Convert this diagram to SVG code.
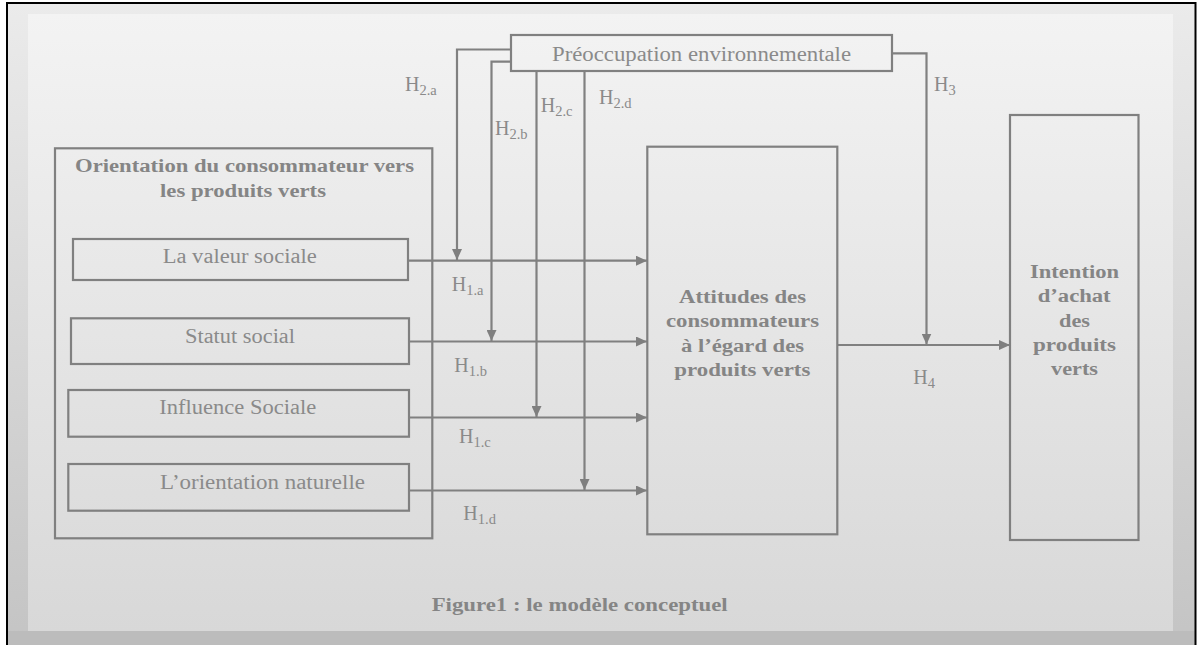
<svg xmlns="http://www.w3.org/2000/svg" width="1200" height="645" viewBox="0 0 1200 645">
<defs>
<linearGradient id="outerBg" x1="0" y1="0" x2="0" y2="1">
<stop offset="0" stop-color="#ebebeb"/>
<stop offset="1" stop-color="#c4c4c4"/>
</linearGradient>
<linearGradient id="panelBg" x1="0" y1="0" x2="0" y2="1">
<stop offset="0" stop-color="#f3f3f3"/>
<stop offset="1" stop-color="#d8d8d8"/>
</linearGradient>
<marker id="arr" markerUnits="userSpaceOnUse" markerWidth="11" markerHeight="10" refX="11" refY="5" orient="auto">
<path d="M0,0 L11,5 L0,10 z" fill="#7f7f7f"/>
</marker>
<style>
.box{fill:none;stroke:#808080;stroke-width:2.2}
.conn{fill:none;stroke:#808080;stroke-width:2.2}
.t{font-family:"Liberation Serif","Times New Roman",serif;fill:#8a8a8a;font-size:20px}
.b{font-family:"Liberation Serif","Times New Roman",serif;fill:#858585;font-size:18.5px;font-weight:bold}
.h{font-family:"Liberation Serif","Times New Roman",serif;fill:#8a8a8a;font-size:20px}
.s{font-size:14.5px}
</style>
</defs>
<rect x="0" y="0" width="1200" height="645" fill="#ffffff"/>
<rect x="7" y="3" width="1189" height="642" fill="url(#outerBg)"/>
<rect x="7" y="631" width="1189" height="14" fill="#bcbcbc"/>
<rect x="28" y="14" width="1145" height="617" fill="url(#panelBg)"/>
<path d="M7,645 V3 H1195.5 V645" fill="none" stroke="#000" stroke-width="2"/>

<g id="connectors">
<path class="conn" d="M408,260.7 H647" marker-end="url(#arr)"/>
<path class="conn" d="M409,341.5 H647" marker-end="url(#arr)"/>
<path class="conn" d="M409,417.5 H647" marker-end="url(#arr)"/>
<path class="conn" d="M409,490.5 H647" marker-end="url(#arr)"/>
<path class="conn" d="M511,49.5 H457 V260" marker-end="url(#arr)"/>
<path class="conn" d="M511,61.7 H491.5 V341" marker-end="url(#arr)"/>
<path class="conn" d="M536.5,71 V417" marker-end="url(#arr)"/>
<path class="conn" d="M584.5,71 V490" marker-end="url(#arr)"/>
<path class="conn" d="M892,53.3 H926.5 V344.5" marker-end="url(#arr)"/>
<path class="conn" d="M838,345 H1010" marker-end="url(#arr)"/>
<text class="h" x="405" y="90.7">H<tspan class="s" dy="4">2.a</tspan></text>
<text class="h" x="495" y="135">H<tspan class="s" dy="4">2.b</tspan></text>
<text class="h" x="540.7" y="111.7">H<tspan class="s" dy="4">2.c</tspan></text>
<text class="h" x="599" y="104">H<tspan class="s" dy="4">2.d</tspan></text>
<text class="h" x="934" y="90.7">H<tspan class="s" dy="4">3</tspan></text>
<text class="h" x="451.7" y="291">H<tspan class="s" dy="4">1.a</tspan></text>
<text class="h" x="454.3" y="371.7">H<tspan class="s" dy="4">1.b</tspan></text>
<text class="h" x="459" y="443.3">H<tspan class="s" dy="4">1.c</tspan></text>
<text class="h" x="463.3" y="520">H<tspan class="s" dy="4">1.d</tspan></text>
<text class="h" x="913.3" y="384">H<tspan class="s" dy="4">4</tspan></text>
</g>

<g id="preoccupation">
<rect class="box" x="511" y="35" width="381" height="36"/>
<text class="t" x="552" y="60.7" textLength="299" lengthAdjust="spacingAndGlyphs">Préoccupation environnementale</text>
</g>

<g id="orientation">
<rect class="box" x="55" y="148.3" width="377.3" height="390"/>
<text class="b" x="75" y="172" textLength="339" lengthAdjust="spacingAndGlyphs">Orientation du consommateur vers</text>
<text class="b" x="160" y="196.5" textLength="166" lengthAdjust="spacingAndGlyphs">les produits verts</text>
</g>

<g id="valeur-sociale">
<rect class="box" x="73" y="239" width="335" height="41"/>
<text class="t" x="162.7" y="263.3" textLength="154" lengthAdjust="spacingAndGlyphs">La valeur sociale</text>
</g>

<g id="statut-social">
<rect class="box" x="71" y="318.3" width="338" height="45.7"/>
<text class="t" x="185" y="343.3" textLength="110" lengthAdjust="spacingAndGlyphs">Statut social</text>
</g>

<g id="influence-sociale">
<rect class="box" x="68.3" y="390" width="340.7" height="46.7"/>
<text class="t" x="159.3" y="414.3" textLength="157" lengthAdjust="spacingAndGlyphs">Influence Sociale</text>
</g>

<g id="orientation-naturelle">
<rect class="box" x="68.3" y="464" width="340.7" height="46.7"/>
<text class="t" x="160" y="489.3" textLength="205" lengthAdjust="spacingAndGlyphs">L’orientation naturelle</text>
</g>

<g id="attitudes">
<rect class="box" x="647.3" y="146.7" width="190" height="387.6"/>
<text class="b" x="679" y="303" textLength="127" lengthAdjust="spacingAndGlyphs">Attitudes des</text>
<text class="b" x="666" y="327" textLength="153" lengthAdjust="spacingAndGlyphs">consommateurs</text>
<text class="b" x="681" y="351.5" textLength="123" lengthAdjust="spacingAndGlyphs">à l’égard des</text>
<text class="b" x="674.3" y="376" textLength="136" lengthAdjust="spacingAndGlyphs">produits verts</text>
</g>

<g id="intention">
<rect class="box" x="1010" y="115" width="128.5" height="425"/>
<text class="b" x="1030" y="278.3" textLength="89" lengthAdjust="spacingAndGlyphs">Intention</text>
<text class="b" x="1037.7" y="301.7" textLength="73" lengthAdjust="spacingAndGlyphs">d’achat</text>
<text class="b" x="1059" y="326.7" textLength="31" lengthAdjust="spacingAndGlyphs">des</text>
<text class="b" x="1033" y="350.7" textLength="83" lengthAdjust="spacingAndGlyphs">produits</text>
<text class="b" x="1051" y="375" textLength="47" lengthAdjust="spacingAndGlyphs">verts</text>
</g>

<g id="caption">
<text class="b" x="431.7" y="611" textLength="296" lengthAdjust="spacingAndGlyphs">Figure1 : le modèle conceptuel</text>
</g>
</svg>
